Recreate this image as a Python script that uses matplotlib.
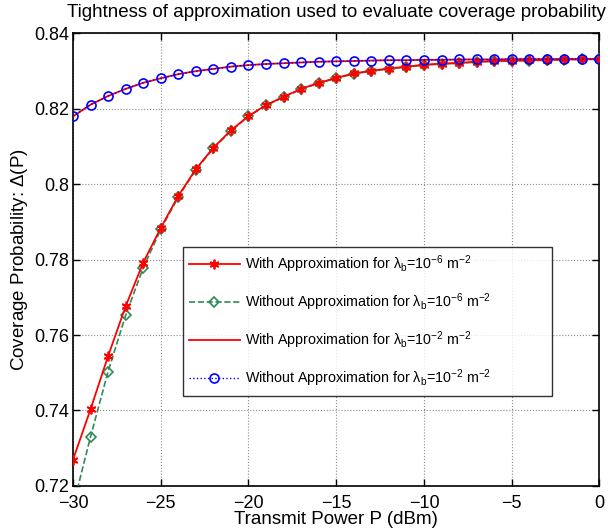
import matplotlib
matplotlib.use("Agg")
import matplotlib.pyplot as plt
import numpy as np

plt.rcParams['font.family'] = ['Liberation Sans', 'DejaVu Sans']
plt.rcParams['mathtext.default'] = 'regular'

# transmit power (dBm)
power = np.arange(-30, 1, 1)

# lambda_b = 1e-6
cov_approx_6 = [0.7269, 0.7403, 0.7544, 0.7676, 0.7792, 0.7884, 0.7969, 0.8040,
                0.8097, 0.8143, 0.8181, 0.8210, 0.8232, 0.8253, 0.8269, 0.8282,
                0.8294, 0.8301, 0.8307, 0.8312, 0.8317, 0.8320, 0.8322, 0.8325,
                0.8327, 0.8328, 0.8329, 0.8330, 0.8331, 0.8332, 0.8332]
cov_exact_6 = [0.7145, 0.7330, 0.7503, 0.7652, 0.7778, 0.7880, 0.7966, 0.8038,
               0.8095, 0.8141, 0.8180, 0.8209, 0.8231, 0.8252, 0.8268, 0.8281,
               0.8293, 0.8300, 0.8306, 0.8311, 0.8316, 0.8319, 0.8321, 0.8324,
               0.8326, 0.8327, 0.8328, 0.8329, 0.8330, 0.8331, 0.8331]

# lambda_b = 1e-2
cov_approx_2 = [0.8180, 0.8211, 0.8234, 0.8253, 0.8269, 0.8281, 0.8292, 0.8300,
                0.8306, 0.8312, 0.8316, 0.8319, 0.8321, 0.8323, 0.8325, 0.8326,
                0.8327, 0.8328, 0.8329, 0.8329, 0.8330, 0.8330, 0.8331, 0.8331,
                0.8331, 0.8332, 0.8332, 0.8332, 0.8332, 0.8332, 0.8332]
cov_exact_2 = list(cov_approx_2)

labels = [r'With Approximation for $\lambda_b$=10$^{-6}$ m$^{-2}$',
          r'Without Approximation for $\lambda_b$=10$^{-6}$ m$^{-2}$',
          r'With Approximation for $\lambda_b$=10$^{-2}$ m$^{-2}$',
          r'Without Approximation for $\lambda_b$=10$^{-2}$ m$^{-2}$']

green = '#2e8b57'
asterisk = (6, 2, 0)

fig = plt.figure(figsize=(6.08, 5.31), dpi=100)
ax = fig.add_axes([0.120, 0.085, 0.866, 0.852])

l2, = ax.plot(power, cov_exact_6, '--', color=green, lw=1.2, marker='D',
              ms=5.5, mfc='none', mec=green, mew=1.2, label=labels[1], zorder=3)
l1, = ax.plot(power, cov_approx_6, '-', color='red', lw=1.3, marker=asterisk,
              ms=7, mec='red', mew=1.3, label=labels[0], zorder=4)
l3, = ax.plot(power, cov_approx_2, '-', color='red', lw=1.3, label=labels[2], zorder=3)
l4, = ax.plot(power, cov_exact_2, ':', color='blue', lw=1.0, marker='o',
              ms=6.5, mfc='none', mec='blue', mew=1.2, label=labels[3], zorder=4)

ax.set_xlim(-30, 0)
ax.set_ylim(0.72, 0.84)
ax.set_xticks(np.arange(-30, 1, 5))
ax.set_yticks(np.arange(0.72, 0.8401, 0.02))
ax.yaxis.set_major_formatter(matplotlib.ticker.FormatStrFormatter('%g'))
ax.tick_params(direction='in', length=5, width=1, top=True, right=True, labelsize=13)
ax.tick_params(axis='x', pad=6.5)
ax.tick_params(axis='y', pad=3)
ax.grid(True, linestyle=':', color='0.55', lw=0.8)
for s in ax.spines.values():
    s.set_linewidth(1.2)

ax.set_xlabel('Transmit Power P (dBm)', fontsize=13.5, labelpad=-1)
ax.set_ylabel('Coverage Probability: $\\Delta$(P)', fontsize=13.5, labelpad=3)
ax.set_title('Tightness of approximation used to evaluate coverage probability',
             fontsize=13.5, pad=11.5)

leg = ax.legend(handles=[l1, l2, l3, l4], loc='upper left',
                bbox_to_anchor=(0.209, 0.197, 0.701, 0.331), mode='expand',
                borderaxespad=0, fontsize=10.3, frameon=True,
                fancybox=False, edgecolor='black', handlelength=3.5,
                labelspacing=1.15, borderpad=0.45, handletextpad=0.35)
leg.get_frame().set_linewidth(1.0)

fig.savefig('out.png', dpi=100)
